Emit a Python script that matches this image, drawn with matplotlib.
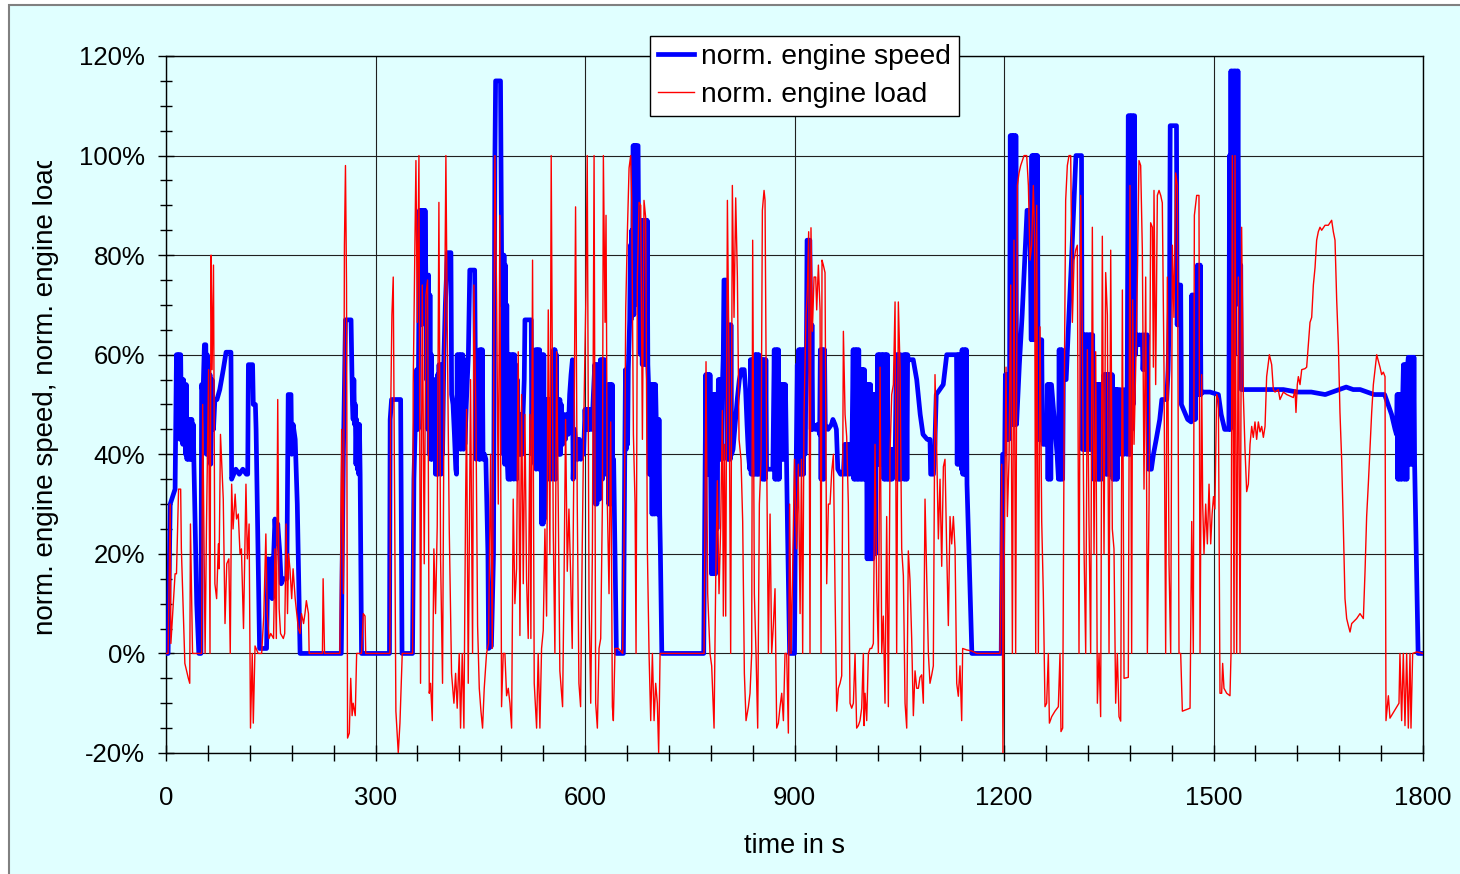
import numpy as np
import matplotlib
matplotlib.use("Agg")
import matplotlib.pyplot as plt
from matplotlib.patches import Rectangle
from matplotlib.ticker import MultipleLocator, FuncFormatter

plt.rcParams['font.family'] = ['Liberation Sans', 'DejaVu Sans']

# norm. engine speed in %, (time s, value)
speed = [
    (0,0),(3,0),(6,30),(13,33),(15,60),(16,45),(17,60),(18,44),(19,60),(20,43),(21,60),(22,46),(23,55),(24,42),
    (25,55),(26,43),(27,54),(28,40),(29,54),(30,39),(31,47),(32,39),(33,47),(34,39),(35,47),(36,39),(37,47),
    (38,40),(39,46),(40,38),(44,10),(47,0),(50,0),(51,54),(53,52),(55,62),(57,62),(58,40),(59,60),(60,40),
    (61,58),(62,39),(63,56),(64,38),(66,55),(68,45),(70,51),(73,51),(77,53),(82,57),(86,60.5),(93,60.5),
    (94,35),(100,37),(105,36),(110,37),(115,36),(117,36),(118,58),(124,58),(125,50),(128,50),(129,45),
    (134,1),(144,1),(146,19),(148,17),(150,19),(152,11),(154,19),(156,27),(158,22),(160,26),(163,20),
    (165,14),(168,15),(173,15),(175,52),(179,52),(180,40),(182,46),(185,43),(188,30),(192,0),(251,0),
    (254,40),(257,67),(265,67),(267,50),(268,47),(269,55),(270,46),(271,50),(272,38),(273,47),(274,37),
    (275,46),(276,36),(277,46),(278,36),(280,0),(320,0),
    (321,47),(323,51),(336,51),(338,0),(353,0),(355,35),(359,57),(361,45),(363,89),(364,67),(365,89),
    (366,66),(367,89),(368,67),(369,89),(370,70),(371,89),(372,76),(373,55),(374,76),(375,45),(376,76),
    (377,40),(378,72),(379,39),(380,60),(381,39),(382,55),(383,40),(385,55),(386,36),(387,55),(388,36),
    (389,56),(390,36),(391,58),(392,38),(393,58),(394,36),(395,58),(396,40),(398,60),(400,70),(403,80.5),
    (408,80.5),(409,52),(411,50),(413,44),(415,37),(416,36),(417,60),(418,41),(419,60),(420,42),(421,60),
    (422,41),(423,60),(424,42),(425,60),(426,41),(427,59),(428,42),(430,50),(433,60),(435,77),(442,77),
    (443,58),(444,39),(445,58),(446,40),(447,58),(448,39),(449,61),(450,39),(451,61),(452,40),(453,61),
    (454,39),(456,40),(458,39),(461,20),(462,1),(466,1.5),(469,20),(471,100),(472,115),(479,115),(480,92),
    (481,70),(482,80),(483,40),(484,80),(485,38),(486,78),(487,40),(488,70),(489,38),(490,35),(491,60),
    (492,35),(493,60),(494,35),(495,60),(496,36),(497,60),(498,35),(499,60),(500,36),(501,58),(502,35),
    (503,55),(504,42),(505,48),(506,40),(507,48),(508,40),(509,48),(510,40),(511,47),(513,55),(514,67),
    (523,67),(524,40),(525,60),(526,40),(527,60),(528,38),(529,61),(530,37),(531,61),(532,38),(533,61),
    (534,37),(535,61),(536,38),(537,60),(538,26),(539,60),(540,26),(541,60),(542,27),(543,51),(544,35),
    (545,51),(546,36),(547,51),(548,35),(549,51),(550,36),(551,51),(552,35),(553,50),(555,61),(556,35),
    (557,61),(558,35),(559,60),(560,40),(562,51),(563,40),(564,51),(565,40),(566,50),(568,42),(570,48),
    (572,43),(574,48),(576,44),(578,52),(580,56),(582,59),(583,35),(585,45),(587,42),(588,39),(589,43),
    (590,39),(592,43),(594,39),(596,42),(598,40),(600,49),(601,45),(602,49),(603,45),(604,49),(605,45),
    (606,49),(607,45),(609,49),
    (610,45),(612,52),(614,58),(615,30),(616,58),(617,30),(618,58),(619,32),(620,58),(621,31),(622,59),
    (623,36),(624,59),(625,35),(626,59),(627,36),(628,59),(629,36),(630,45),(632,40),(633,54),(634,30),
    (635,54),(636,30),(637,54),(638,30),(639,54),(640,30),(641,39),(645,0),(655,0),(657,41),(658,57),
    (659,41),(660,57),(661,42),(662,57),(664,67),(665,82),(666,67),(667,85),(668,68),(669,102),(670,68),
    (671,102),(672,70),(673,102),(674,75),(675,102),(676,102),(677,80),(679,87),(680,60),(681,87),(682,58),
    (683,87),(684,60),(685,87),(686,58),(687,87),(688,60),(689,87),(690,58),(691,54),(692,36),(693,54),
    (694,36),(695,54),(696,28),(697,54),(698,28),(699,54),(700,28),(701,54),(702,47),(703,28),(704,47),
    (705,28),(706,47),(707,28),(708,20),(710,0),(770,0),(772,36),(773,56),(774,36),(775,56),(776,36),
    (777,56),(778,36),(779,56),(781,16),(782,52),(783,16),(784,52),(785,16),(786,52),(787,16),(788,52),
    (789,25),(791,55),(792,39),(793,55),(794,39),(795,55),(796,39),(797,55),(798,60),(799,75),(802,75),
    (803,66),(804,39),(805,66),(806,39),(807,66),(808,39),(809,66),(810,40),(812,41),(815,46),(818,51),
    (821,55),(824,57),(828,57),(830,53),(832,46),(834,40),(836,37),(837,59),(838,36),(839,59),(840,36),
    (841,59),(842,36),(843,60),(844,36),(845,60),(846,36),(847,60),(848,36),(849,60),(850,36),(852,40),
    (853,59),(854,35),(855,59),(856,35),(857,59),(858,35),(859,59),(860,37),(865,37),(869,37),(871,61),
    (872,35),(873,61),(874,35),(875,61),(876,35),(877,61),(878,35),(879,54),(880,39),(881,54),(882,39),
    (883,54),(884,39),(885,54),(886,39),(887,54),(890,25),(893,0),(900,0),
    (901,20),(904,58),(905,36),(906,61),(907,36),(908,61),(909,36),(910,61),(911,36),(912,61),(913,36),
    (914,61),(915,40),(917,60),(918,83),(922,83),(923,66),(924,45),(925,66),(926,45),(927,46),(930,45),
    (933,46),(936,44),(937,61),(938,35),(939,61),(940,35),(941,61),(942,35),(943,61),(944,46),(948,45),
    (953,46),(955,47),(958,46),(960,45),(962,37),(966,36),(970,36),(972,42),(973,36),(975,42),(976,36),
    (978,42),(979,36),(981,42),(982,38),(984,61),(985,35),(986,61),(987,35),(988,61),(989,35),(990,61),
    (991,35),(992,61),(993,35),(994,57),(995,35),(996,57),(997,35),(998,57),(999,35),(1000,57),(1001,35),
    (1003,54),(1004,19),(1005,54),(1006,19),(1007,54),(1008,19),(1009,54),(1010,19),(1011,52),(1012,19),
    (1013,52),(1014,20),(1015,52),(1016,20),(1017,52),(1018,38),(1019,60),(1020,38),(1021,60),(1022,38),
    (1023,60),(1024,38),(1025,60),(1026,38),(1027,60),(1028,35),(1029,60),(1030,35),(1031,60),(1032,35),
    (1033,60),(1034,35),(1035,41),(1036,35),(1037,41),(1038,35),(1039,41),(1040,35),(1041,41),(1044,38),
    (1046,60),(1047,35),(1048,60),(1049,35),(1050,60),(1051,35),(1052,60),(1053,35),(1055,40),(1056,60),
    (1057,35),(1058,60),(1059,35),(1060,60),(1061,35),(1062,60),(1063,59),(1070,59),(1075,55),(1080,48),
    (1084,44),(1090,43),(1094,43),(1095,36),(1099,36),(1101,42),(1103,52),(1108,53),(1113,54),(1118,60),
    (1132,60),(1133,38),(1134,60),(1135,38),(1136,60),(1137,38),(1138,60),(1139,37),(1140,61),(1141,36),
    (1142,61),(1143,36),(1144,61),(1145,36),(1146,61),(1147,34),(1151,15),(1154,0),(1196,0),(1198,40),
    (1201,40),
    (1202,56),(1203,43),(1204,56),(1205,43),(1206,56),(1207,43),(1208,56),(1209,104),(1210,46),(1211,104),
    (1212,46),(1213,104),(1214,46),(1215,104),(1216,46),(1217,104),(1218,46),(1222,58),(1226,68),(1230,80),
    (1233,89),(1237,89),(1239,63),(1240,100),(1241,63),(1242,100),(1243,63),(1244,100),(1245,63),(1246,100),
    (1247,63),(1248,100),(1249,43),(1250,63),(1251,43),(1252,63),(1253,43),(1254,63),(1255,43),(1256,42),
    (1261,42),(1262,54),(1263,35),(1264,54),(1265,35),(1266,54),(1267,35),(1268,54),(1272,47),(1276,40),
    (1278,35),(1279,61),(1280,35),(1281,61),(1282,35),(1283,61),(1284,35),(1285,55),(1289,55),(1293,68),
    (1297,80),(1300,90),(1303,100),(1311,100),(1312,41),(1313,64),(1314,41),(1315,64),(1316,41),(1317,64),
    (1318,41),(1319,64),(1320,41),(1321,64),(1322,41),(1323,64),(1324,41),(1325,64),(1326,41),(1327,64),
    (1328,35),(1329,54),(1330,35),(1331,54),(1332,35),(1333,54),(1334,35),(1335,54),(1336,35),(1337,54),
    (1338,35),(1339,54),(1340,35),(1341,54),(1342,47),(1343,56),(1344,47),(1345,56),(1346,36),(1347,56),
    (1348,36),(1349,56),(1350,36),(1351,56),(1352,36),(1353,56),(1354,36),(1355,56),(1356,35),(1357,53),
    (1358,35),(1359,53),(1360,35),(1361,53),(1362,35),(1363,53),(1364,40),(1366,53),(1368,40),(1370,53),
    (1372,40),(1374,53),(1376,40),(1378,108),(1379,40),(1380,108),(1381,40),(1382,108),(1383,45),(1384,108),
    (1385,50),(1386,108),(1387,108),(1388,60),(1390,64),(1392,62),(1394,64),(1396,62),(1398,64),(1399,57),
    (1401,64),(1403,57),(1405,64),(1407,37),(1411,37),(1414,40),(1418,43),(1423,47),(1426,51),(1433,51),
    (1435,57),(1437,70),(1438,106),(1447,106),(1448,66),(1449,74),(1450,66),(1451,74),(1452,66),(1453,74),
    (1454,50),(1457,49),(1463,47),(1468,46.5),(1469,72),(1470,47),(1471,72),(1472,47),(1473,72),(1474,47),
    (1475,72),(1476,52),(1477,78),(1478,52),(1479,78),(1480,52),(1481,78),(1482,52),(1483,52.5),(1495,52.5),
    (1507,52),(1511,48),(1516,45),(1522,45),(1523,100),(1524,45),(1525,117),(1526,50),(1527,117),(1528,55),
    (1529,117),(1530,60),(1531,117),(1532,70),(1533,117),(1534,80),(1535,117),(1536,78),(1539,78),(1540,53),
    (1560,53),(1580,53),(1600,53),(1620,52.5),(1640,52.5),(1660,52),(1680,53),(1690,53.5),(1700,53),
    (1710,53),(1720,52.5),(1730,52),(1745,52),(1750,50),(1755,48),(1760,45),(1762,44),(1763,52),(1764,35),
    (1765,52),(1766,35),(1767,52),(1768,35),(1769,52),(1770,35),(1771,52),(1772,58),(1773,35),(1774,58),
    (1775,35),(1776,58),(1777,35),(1778,58),(1779,59.5),(1780,38),(1781,59.5),(1782,38),(1783,59.5),
    (1784,38),(1785,59.5),(1786,38),(1787,59.5),(1788,38),(1791,15),(1793,0),(1800,0),
]

# norm. engine load in %, (time s, value)
load = [
    (0,0),(3,0),(6,30),(7,2),(10,9),(13,16),(15,16),(18,33),(21,33),(22,21),(25,7),(27,-2),(32,-5),(34,-6),
    (35,26),(38,0),(51,0),(52.5,50),(56,0),(58,26),(61,57),(63,0),(64.5,80),(66,57),(68,78),(70,14),
    (72.5,11),(75,22),(76,17),(78,44),(82,31),(84.5,6),(87,18),(90,19),(92,0),(94,34),(96,25),(99,32),
    (101,27),(103.5,28),(106,20),(108,21),(111,5),(114.5,34),(116.5,19),(119,26),(121,-15),(123.5,0),
    (125,-14),(127.5,1.5),(132,0),(137,0),(140,7.5),(143,24),(145,8),(147.5,3),(150,4),(154,3),(156,21),
    (158,3),(160,51),(162,9),(164,4),(168,3),(170,4),(172,26),(174,8),(175.5,20),(177.5,17),(180,11),
    (182,17),(185,11),(189.5,5),(192,4),(194,8),(197,6),(199,8),(201,10.6),(204,8),(205,0),(224,0),
    (225,15),(227,0),(249,0),(251.5,45),(254,12),(255.5,82),(257,98),(258.5,74),(260,-17),(262.5,-16),
    (264.5,-5),(266.5,-12.5),(268,-10),(271,-12.5),(273,0),(280,0),(282.5,8),(285,7.5),(286,0),(320.6,0),
    (321.6,47),(323.5,68),(325.4,75.6),(329.2,-11.6),(332.6,-20),(335,-14),(338.3,0),(353.1,0),(354,54),
    (357.9,99),(359.8,66.5),(362.2,100),(364.5,-6),(367,74),(369.8,18),(372.2,72),(374.6,75),(377,-8),
    (378.9,-6),(381.3,-13.5),(383.6,21),(386,8),(388.4,25.6),(390.8,90.6),(393.2,19),(396,-6),(398.4,57),
    (400.8,100),(402.7,66.5),(405.6,25),(408.9,-4),(412.3,-10),(414.7,-4),(417,-11),(419.9,0),(421.8,-15),
    (424.2,0),(426.6,-15),(429,30),(430.4,49),(432.8,-6),(436.1,55),(439,0),(440.9,74),(443.8,48),
    (446.2,5.6),(448.6,-7),(451,-11.6),(453.3,-15),(455.7,-7),(459,0),(461.9,2),(464.8,40),(467.2,1),
    (471,100),(473.4,72),(475.8,30),(478.1,88),(480.5,-10.7),(482.9,0),(485.3,0),(487.7,-8.5),(490.1,-7),
    (492.5,-10),(494.9,-15),(497.2,31),(499.6,10),(502,17),(504.4,60.6),(506.8,3.6),(509.2,52),(511.6,14),
    (514,48),(516.3,15),(518.7,3),(521.1,48),(522.5,3),(524.9,79),(527.3,-6),(530.7,-15),(533,0),
    (535.4,-15),(537.8,1),(540.2,4.6),(542.6,25),(545,7.5),(547.4,69),(549.7,20),(551.6,100),(554.5,25),
    (556.9,0),(559.3,60.6),(561.7,30),(564,-3.5),(567.9,-10.7),(569.8,12),(572.2,47),(574.6,16.5),(577,29),
    (579.3,16.5),(581.7,1),(584.1,39),(586.5,89.7),(588.9,30),(591.3,-6),(593.7,-10.7),(596,21),(598.4,48),
    (601.3,72),(603.2,100),
    (605.8,10),(608.2,-10),(610.6,21),(613,100),(615.3,-10),(617.7,-15),(620.1,1),(622.5,3),(624.9,30),
    (626.3,100),(628.7,66.5),(630.1,88),(632,30),(634.4,12),(636.8,46.5),(639.2,-10.7),(640.6,-13.5),
    (643,1),(647.8,1),(654,0),(656.4,29),(658.3,69),(660.7,84.7),(663.1,97.5),(665.4,100),(666.9,91),
    (669.3,44),(671.7,30),(673.1,0),(675,75.6),(677.4,90.6),(679.8,90),(682.2,43),(684.5,91),(686.9,87.5),
    (689.3,21),(691.7,0),(694.1,-13.5),(696.5,0),(698.9,-13.5),(701.2,-6),(703.6,-10),(705.5,-20),
    (707.5,0),(770.5,0),(773.3,58.6),(775.7,12),(779,0),(781.4,-2.5),(784.8,-15),(787.2,15),(789.5,34.7),
    (791.9,12),(794.3,25.6),(796.7,48.8),(798.1,7.5),(799.6,42),(801.5,7.5),(803.9,91),(806.3,57.5),
    (808.6,0),(811,94),(813.4,67.5),(815.8,91.5),(818.2,75.6),(820.6,43),(823.4,39),(825.8,26.5),
    (828.2,-4),(830.6,-13.5),(834,-10.7),(836.3,-8),(838.7,0),(840.1,83),(842.5,12),(844.9,0),(847.3,-15),
    (849.7,30),(852.1,39),(854,89),(856.4,93),(857.8,91),(860.2,39),(862.6,0),(865,28),(867.3,0),
    (869.7,5.6),(872.1,13),(874.5,-15),(876.9,-14),(879.3,-10.7),(881.7,-8),(884.1,-13.5),(886.4,0),
    (888.8,0),(891.2,-16),(893,30),(895,0),(897,14),(900,39),(903,21),(905.5,38),(908,8),(910,39),
    (911.7,0),(913.6,48),(916.5,68),(918.4,73),(920.3,84.7),(922.2,0),(923.6,85.5),(925.6,64.7),(928,75.6),
    (930.4,75.6),(931.8,69),(934.2,78),(936.6,69),(938,0),(939.4,79),(941.3,78),(943.7,76.5),(946.1,14),
    (948.5,30),(950.9,30),(953.3,36.5),(955.7,40),(958,13),(960.4,-11.6),(962.8,-7),(965.2,-6),(967.6,-4.5),
    (970,64.7),(972.4,48),(974.7,43.6),(977.1,30),(979.5,-10),(981.9,-11),(984.3,-10),(986.7,0),(989,-15),
    (991.4,-14.5),(993.8,-13.5),(996.2,-11),(998.6,0),(999.6,-14.5),(1001,-8),(1003.4,-13.5),(1005.8,0),
    (1008.2,1),(1010.5,1),(1012.9,2),(1015.3,42),(1017.7,13),(1020.1,0),(1022.5,57.5),(1024.9,0),
    (1027.2,7.5),(1029.6,-10),(1032,27.5),(1034.4,-10.7),(1036.8,40),(1039.2,52),(1041.6,54),(1044,70.6),
    (1046.3,0),(1048.7,70.6),(1051.1,57.5),(1053.5,21),(1055.9,15.6),(1058.3,-10),(1060.7,-15),(1063,20.6),
    (1065.4,14.7),(1067.8,3),(1070.2,-12.5),(1072.6,-3.5),(1075,-7),(1077.4,-7),(1079.7,-4.8),(1082.1,-4.3),
    (1084.5,-10),(1086.9,31),(1089.3,15.6),(1091.7,0),(1094,-6),(1096.5,-4.3),(1098.8,-2.5),(1101.2,56),
    (1103.6,41),(1106,23),(1108.4,35),(1110.8,17.5),(1113.2,37.5),(1115.5,39),(1117.9,21),(1120.3,5.6),
    (1122.7,27.5),(1125.1,22),(1127.5,27.5),(1129.9,21),(1132.3,-6),(1134.6,-8.6),(1137,-2.5),
    (1139.4,-13.5),(1140.8,1),(1146.6,0.7),(1153.7,0.5),(1160.9,0),(1194.3,0),(1196.7,38),(1198.5,-20),
    (1200.5,21),(1202.9,57.5),(1204.8,27.5),(1207.2,39),(1209.6,74),(1212,0),(1214.3,83),(1216.7,0),
    (1219.1,94),(1221.5,96.5),(1223.9,98),(1226.3,99),(1228.7,100),(1232.5,100),(1234.9,94),(1237.3,79),
    (1239.6,82),(1242,94),(1243.9,83),(1245.4,0),(1246.8,90),(1249.2,0),(1251.6,65.6),(1254,26.5),
    (1256.3,12),(1258.7,-10.7),(1261.1,-10),(1263.5,0),(1265,-14),(1268.3,-12.7),(1273,-11.6),
    (1277.8,-10.7),(1280.2,0),(1281.6,-15.7),(1284,-15),(1286.4,54),(1288.3,91),(1290.7,98),(1293.1,100),
    (1295.5,100),(1297.9,66.5),(1300.3,79),(1302.6,81),(1305,82),(1307.4,0),(1309.8,92),(1312.2,63),
    (1314.6,21),(1317,0),(1319.4,61),(1321.7,26.5),(1324.1,0),(1326.5,85.6),(1328.9,20),(1331.3,60.6),
    (1333.7,-10),(1336.1,0),(1338.4,-12.7),(1340.8,83.8),(1343.2,20),(1345.6,76.5),(1348,68),(1350.4,0),
    (1352.8,81),(1355.1,25),(1357.5,21),(1359.9,-10),(1362.3,0),(1364.7,-12.7),(1367.1,-13.6),(1369.5,73),
    (1371.9,-5),(1378,-4.8),(1380.4,94),(1382.8,0),(1384.3,71),(1386.2,42),(1388.6,57.5),(1391,75.6),
    (1393.3,99),(1395.7,98),(1398.1,81),(1400.5,33),(1402.9,75.6),(1405.3,0),(1407.7,30),(1410,86.5),
    (1412.4,85.6),(1413.9,57.5),(1414.8,93),(1417.2,54),(1419.6,92),(1422,93),(1424.4,92),(1426.7,90.5),
    (1429.1,57.5),(1431.5,0),(1433.9,75.6),(1436.3,18),(1438.7,0),(1441.1,82),(1443.4,67.5),(1445.8,96.5),
    (1448.2,94),(1450.6,0),(1453,0),(1455.4,-11.6),(1466.4,-11),(1468.8,26.5),(1471.1,0),(1472.6,88),
    (1475.9,92),(1479.2,92),(1480.7,0),(1483.1,56),(1484.5,30),(1486.4,20),(1488.8,30),(1491.2,22),
    (1493.6,34),(1496,22),(1498,28),(1500,31.5),(1502,29),(1504.5,52),(1507,51),(1509.3,-8),(1511.7,-8),
    (1513.1,-2),(1515,-7),(1518.9,-8),(1523.6,-8.5),(1525.1,0),(1527,100),(1529.4,0),(1530.8,100),
    (1533.2,0),(1535.6,75.6),(1538,0),(1540.3,85.6),(1542.7,52),(1545.1,41),(1547.5,32.5),(1549.9,34),
    (1552.3,42),(1554.7,45.6),(1557,43.4),(1559.4,46.5),(1561.8,43),(1564.2,46.5),(1566.6,44.5),(1569,45.6),
    (1571.4,43.4),(1573.8,45.6),(1576.1,55.6),(1580,60),(1583.3,58),(1585.7,53),(1588.1,52.5),(1592.8,53),
    (1595.2,51),(1600,52.5),(1604.8,52),(1614.3,51.4),(1616.7,53),(1618.1,48.4),(1620,54),(1621.5,55.6),
    (1623.9,54),(1626.3,57),(1631,57.2),(1633.4,57.5),(1635.8,62),(1638.2,66.5),(1640.6,67.5),(1643,74),
    (1645.4,77.5),(1647.7,83),(1650.1,84.7),(1652.5,85.6),(1654.9,85),(1659.7,86),(1664.4,86),(1669.2,87),
    (1671.6,84.7),(1674,83),(1676.4,71),(1678.8,62),(1681.1,48.4),(1683.5,39),(1685.9,25.6),(1688.3,11),
    (1690.7,7),(1693.1,5.6),(1695.5,4.3),(1697.9,6),(1705,7),(1709.8,8),(1714.6,7),(1717,16.5),
    (1719.3,27.5),(1721.7,34),(1724.1,41),(1726.5,48.4),(1728.9,54),(1733.7,60),(1738.4,57.5),(1740.8,56),
    (1743.2,56.5),(1745.6,55.6),(1747,-13.5),(1750.4,-8.5),(1752.7,-13),(1765.6,-10),(1767,0),
    (1769.4,-13.5),(1771.8,0),(1774.2,-14.5),(1776.6,0),(1779,-15),(1781.4,0),(1782.8,-15),(1785.2,0),
    (1791,0.3),(1800,0),
]

labels = ['norm. engine speed', 'norm. engine load']
colors = ['#0000FF', '#FF0000']

W, H = 1460, 874
bg = '#E0FFFF'
fig = plt.figure(figsize=(W / 100, H / 100), dpi=100, facecolor='white')

# chart area frame (gray border, light cyan fill), behind everything
frame = Rectangle((9 / W, -0.1), 1.2, 1 - 5 / H + 0.1, transform=fig.transFigure,
                  facecolor=bg, edgecolor='#808080', linewidth=1.5, zorder=-10)
fig.patches.append(frame)

ax = fig.add_axes([166 / W, 1 - 753 / H, (1423 - 166) / W, (753 - 56) / H])
ax.set_zorder(1)
ax.set_facecolor(bg)

st, sv = zip(*speed)
lt, lv = zip(*load)
ax.plot(st, sv, color=colors[0], lw=3.4, label=labels[0], zorder=3)
ax.plot(lt, lv, color=colors[1], lw=1.0, label=labels[1], zorder=4)

ax.set_xlim(0, 1800)
ax.set_ylim(-20, 120)
ax.xaxis.set_major_locator(MultipleLocator(300))
ax.xaxis.set_minor_locator(MultipleLocator(60))
ax.yaxis.set_major_locator(MultipleLocator(20))
ax.yaxis.set_minor_locator(MultipleLocator(5))
ax.yaxis.set_major_formatter(FuncFormatter(lambda v, p: '%d%%' % round(v)))
ax.xaxis.set_major_formatter(FuncFormatter(lambda v, p: '%d' % round(v)))

ax.grid(True, which='major', color='#202020', lw=0.8, zorder=1)
ax.set_axisbelow(True)
for s in ax.spines.values():
    s.set_color('black')
    s.set_linewidth(1.0)

ax.tick_params(axis='y', which='major', direction='inout', length=12, width=1, pad=9, labelsize=18.5)
ax.tick_params(axis='y', which='minor', direction='inout', length=9, width=1)
ax.tick_params(axis='x', which='major', direction='inout', length=11, width=1, pad=18.5, labelsize=18.5)
ax.tick_params(axis='x', which='minor', direction='inout', length=11, width=1)

fig.text(794 / W, 1 - 846 / H, 'time in s', ha='center', va='center', fontsize=19.5)

# y label runs past the top of the chart area and is cut off there
fig.text(46 / W, 1 - 394 / H, 'norm. engine speed, norm. engine load',
         rotation=90, ha='center', va='center', fontsize=20, zorder=3)
cover = Rectangle((20 / W, 1 - 160.5 / H), 50 / W, 25 / H, transform=fig.transFigure,
                  facecolor=bg, edgecolor='none', zorder=5)
fig.patches.append(cover)

leg = ax.legend(loc='upper left', bbox_to_anchor=(650 / W, 1 - 36 / H),
                bbox_transform=fig.transFigure, fontsize=20.3, frameon=True,
                fancybox=False, edgecolor='black', framealpha=1, facecolor='white',
                borderpad=0.27, borderaxespad=0, handlelength=1.3, handletextpad=0.25,
                labelspacing=0.45)
leg.get_frame().set_linewidth(1.0)
leg.set_zorder(10)

fig.savefig('out.png', dpi=100, facecolor='white')
